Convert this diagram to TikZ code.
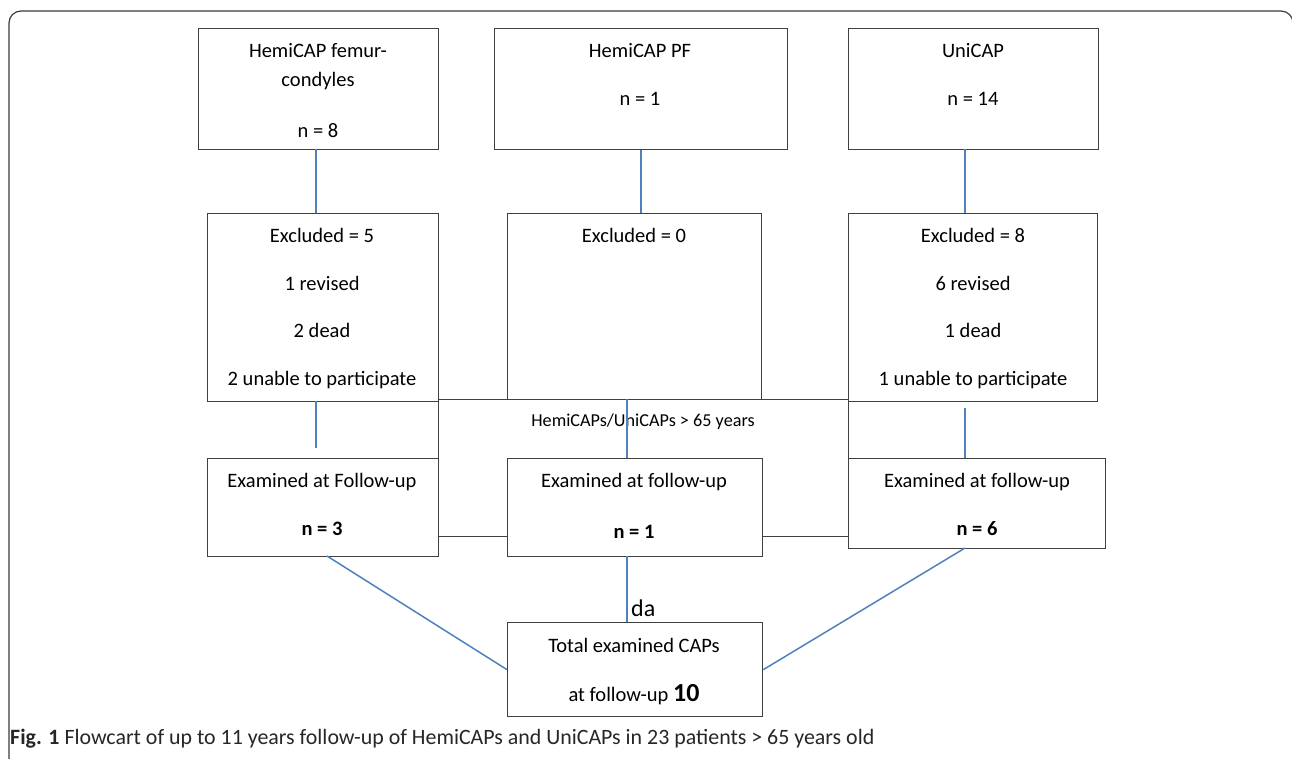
\documentclass[tikz,border=0pt]{standalone}
\usepackage{fontspec}
\setmainfont{Carlito}
\begin{document}
\begin{tikzpicture}[x=1pt,y=-1pt,
  box/.style={draw=boxgray,line width=1.3pt,fill=white,inner sep=0pt,anchor=north west},
  txt/.style={font=\fontsize{20.5}{24}\selectfont,inner sep=0pt,anchor=mid},
  bold/.style={txt,font=\fontsize{20.5}{24}\selectfont\bfseries},
  small/.style={font=\fontsize{18.2}{21}\selectfont,inner sep=0pt,anchor=mid},
  blueln/.style={draw=lineblue,line width=1.5pt},
  darkln/.style={draw=boxgray,line width=1.3pt}]
\definecolor{boxgray}{HTML}{404040}
\definecolor{lineblue}{HTML}{4F81BD}
\definecolor{framegray}{HTML}{3A3A3A}
\useasboundingbox (0,0) rectangle (1292,758);
\begin{scope}
\clip (0,0) rectangle (1292,758);
\draw[framegray,line width=1.2pt,rounded corners=12pt] (9,11) rectangle (1293,790);
\end{scope}
% enclosing rectangle
\node[box,fill=none,minimum width=410,minimum height=137] (R) at (438,399) {};
\node[small] (rt) at (643,424) {HemiCAPs/UniCAPs > 65 years};
% top row
\node[box,minimum width=240,minimum height=121] (A) at (198,28) {};
\node[box,minimum width=293,minimum height=121] (B) at (494,28) {};
\node[box,minimum width=250,minimum height=121] (C) at (848,28) {};
\node[txt] (a1) at (318,55) {HemiCAP femur-};
\node[txt] (a2) at (318,84) {condyles};
\node[txt] (a3) at (318,135) {n = 8};
\node[txt] (b1) at (640,55) {HemiCAP PF};
\node[txt] (b2) at (640,103) {n = 1};
\node[txt] (c1) at (973,55) {UniCAP};
\node[txt] (c2) at (973,103) {n = 14};
% middle row
\node[box,minimum width=231,minimum height=188] (D) at (207,213) {};
\node[box,minimum width=254,minimum height=186] (E) at (507,213) {};
\node[box,minimum width=249,minimum height=188] (F) at (848,213) {};
\node[txt] (d1) at (322,240) {Excluded = 5};
\node[txt] (d2) at (322,288) {1 revised};
\node[txt] (d3) at (322,335) {2 dead};
\node[txt] (d4) at (322,383) {2 unable to participate};
\node[txt] (e1) at (634,240) {Excluded = 0};
\node[txt] (f1) at (973,240) {Excluded = 8};
\node[txt] (f2) at (973,288) {6 revised};
\node[txt] (f3) at (973,335) {1 dead};
\node[txt] (f4) at (973,383) {1 unable to participate};
% follow-up row
\node[box,minimum width=231,minimum height=98] (G) at (207,458) {};
\node[box,minimum width=255,minimum height=98] (H) at (507,458) {};
\node[box,minimum width=257,minimum height=90] (I) at (848,458) {};
\node[txt] (g1) at (322,485) {Examined at Follow-up};
\node[bold] (g2) at (322,533) {n = 3};
\node[txt] (h1) at (634,485) {Examined at follow-up};
\node[bold] (h2) at (634,536) {n = 1};
\node[txt] (i1) at (977,485) {Examined at follow-up};
\node[bold] (i2) at (977,533) {n = 6};
% total
\node[box,minimum width=255,minimum height=94] (J) at (507,622) {};
\node[txt] (j1) at (634,650) {Total examined CAPs};
\node[txt] (j2) at (634,699) {at follow-up \fontsize{26}{30}\selectfont\bfseries 10};
\node[inner sep=0pt,anchor=mid west,font=\fontsize{24}{28}\selectfont] (da) at (631,614) {da};
% connectors
\coordinate (dg) at (316,448);
\coordinate (fi) at (965,408);
\draw[blueln] (316,149) -- (316,213);
\draw[blueln] (B.south) -- (B.south |- E.north);
\draw[blueln] (965,149) -- (965,213);
\draw[blueln] (316,401) -- (dg);
\draw[blueln] (627,399) -- (627,458);
\draw[blueln] (fi) -- (965,458);
\draw[blueln] (327,556) -- (J.west);
\draw[blueln] (627,556) -- (627,622);
\draw[blueln] (965,548) -- (J.east);
% caption
\node[inner sep=0pt,anchor=mid west,font=\fontsize{21.9}{25}\selectfont,text=black!85] (cap) at (10,742) {\textbf{Fig. 1} Flowcart of up to 11 years follow-up of HemiCAPs and UniCAPs in 23 patients > 65 years old};
\end{tikzpicture}
\end{document}
